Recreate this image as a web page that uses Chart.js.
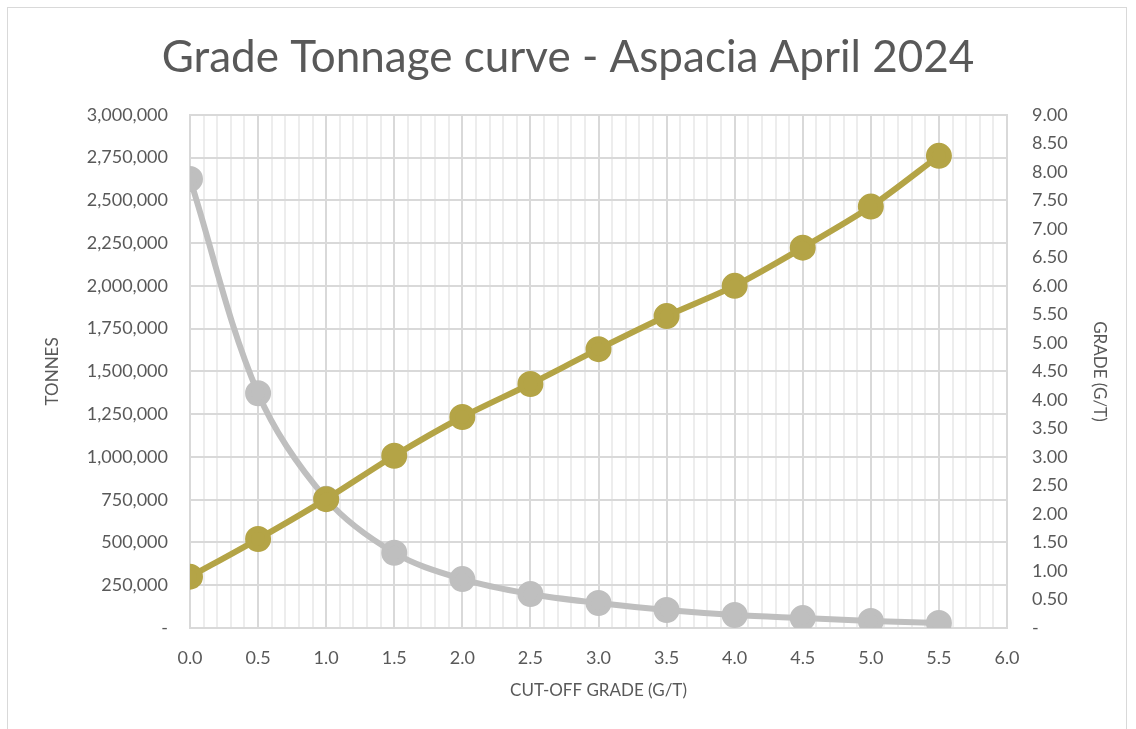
<!DOCTYPE html>
<html>
<head>
<meta charset="utf-8">
<script src="https://cdn.jsdelivr.net/npm/chart.js@4.4.1/dist/chart.umd.min.js"></script>
<style>
  html, body { margin: 0; padding: 0; background: #fff; overflow: hidden; }
  #wrap { position: relative; width: 1136px; height: 729px; }
  #frame { position: absolute; left: 7px; top: 7px; width: 1120px; height: 760px; border: 1px solid #d9d9d9; box-sizing: border-box; }
  canvas { position: absolute; left: 0; top: 0; }
</style>
</head>
<body>
<div id="wrap">
  <div id="frame"></div>
  <canvas id="chart" width="1136" height="729"></canvas>
</div>
<script>
// Cut-off grades (g/t)
const cutoffGrades = [0.0, 0.5, 1.0, 1.5, 2.0, 2.5, 3.0, 3.5, 4.0, 4.5, 5.0, 5.5];
// Tonnes above cut-off (left axis)
const tonnes = [2625000, 1372000, 755000, 440000, 286000, 199000, 146000, 105000, 76000, 58000, 41000, 29000];
// Average grade above cut-off (right axis)
const grades = [0.90, 1.56, 2.26, 3.02, 3.70, 4.28, 4.89, 5.47, 6.00, 6.67, 7.39, 8.28];

const chartTitle = "Grade Tonnage curve - Aspacia April 2024";
const xTitle = "CUT-OFF GRADE (G/T)";
const yLeftTitle = "TONNES";
const yRightTitle = "GRADE (G/T)";

const textColor = "#595959";
const gridMajor = "#d9d9d9";
const gridMinor = "#ededed";

Chart.defaults.font.family = "Lato, 'Noto Sans', sans-serif";
Chart.defaults.color = textColor;

const isHalf = (v) => Math.abs(v * 2 - Math.round(v * 2)) < 1e-6;

new Chart(document.getElementById("chart"), {
    type: "line",
    data: {
        datasets: [
            {
                label: "Grade",
                data: cutoffGrades.map((x, i) => ({ x: x, y: grades[i] })),
                yAxisID: "yRight",
                borderColor: "#b4a446",
                backgroundColor: "#b4a446",
                borderWidth: 6,
                pointRadius: 10,
                pointHoverRadius: 10,
                tension: 0.3,
            },
            {
                label: "Tonnes",
                data: cutoffGrades.map((x, i) => ({ x: x, y: tonnes[i] })),
                yAxisID: "yLeft",
                borderColor: "#bfbfbf",
                backgroundColor: "#bfbfbf",
                borderWidth: 6,
                pointRadius: 10,
                pointHoverRadius: 10,
                tension: 0.35,
            },
        ],
    },
    options: {
        responsive: false,
        animation: false,
        layout: { padding: 0 },
        plugins: {
            legend: { display: false },
            tooltip: { enabled: false },
            title: {
                display: true,
                text: chartTitle,
                color: textColor,
                font: { size: 44, weight: "normal" },
                padding: { top: 31, bottom: 31 },
            },
        },
        scales: {
            x: {
                type: "linear",
                min: 0,
                max: 6,
                afterFit: (scale) => { scale.height = 101; },
                ticks: {
                    stepSize: 0.1,
                    autoSkip: false,
                    maxRotation: 0,
                    padding: 19,
                    font: { size: 18 },
                    callback: (v) => (isHalf(v) ? Number(v).toFixed(1) : ""),
                },
                grid: {
                    drawTicks: false,
                    lineWidth: 2,
                    color: (ctx) => (ctx.tick && isHalf(ctx.tick.value) ? gridMajor : gridMinor),
                },
                border: { color: gridMajor, width: 2 },
                title: {
                    display: true,
                    text: xTitle,
                    font: { size: 17 },
                    padding: { top: 0, bottom: 28 },
                },
            },
            yLeft: {
                type: "linear",
                position: "left",
                min: 0,
                max: 3000000,
                afterFit: (scale) => { scale.width = 190; },
                ticks: {
                    stepSize: 250000,
                    padding: 22,
                    font: { size: 18 },
                    callback: (v) => (v === 0 ? "-" : v.toLocaleString("en-US")),
                },
                grid: { drawTicks: false, color: gridMajor, lineWidth: 2 },
                border: { color: gridMajor, width: 2 },
                title: {
                    display: true,
                    text: yLeftTitle,
                    font: { size: 17 },
                    padding: { top: 42, bottom: 0 },
                },
            },
            yRight: {
                type: "linear",
                position: "right",
                min: 0,
                max: 9,
                afterFit: (scale) => { scale.width = 129; },
                ticks: {
                    stepSize: 0.5,
                    padding: 25,
                    font: { size: 18 },
                    callback: (v) => (v === 0 ? "-" : Number(v).toFixed(2)),
                },
                grid: { drawTicks: false, drawOnChartArea: false },
                border: { color: gridMajor, width: 2 },
                title: {
                    display: true,
                    text: yRightTitle,
                    font: { size: 17 },
                    padding: { top: 26, bottom: 0 },
                },
            },
        },
    },
});
</script>
</body>
</html>
